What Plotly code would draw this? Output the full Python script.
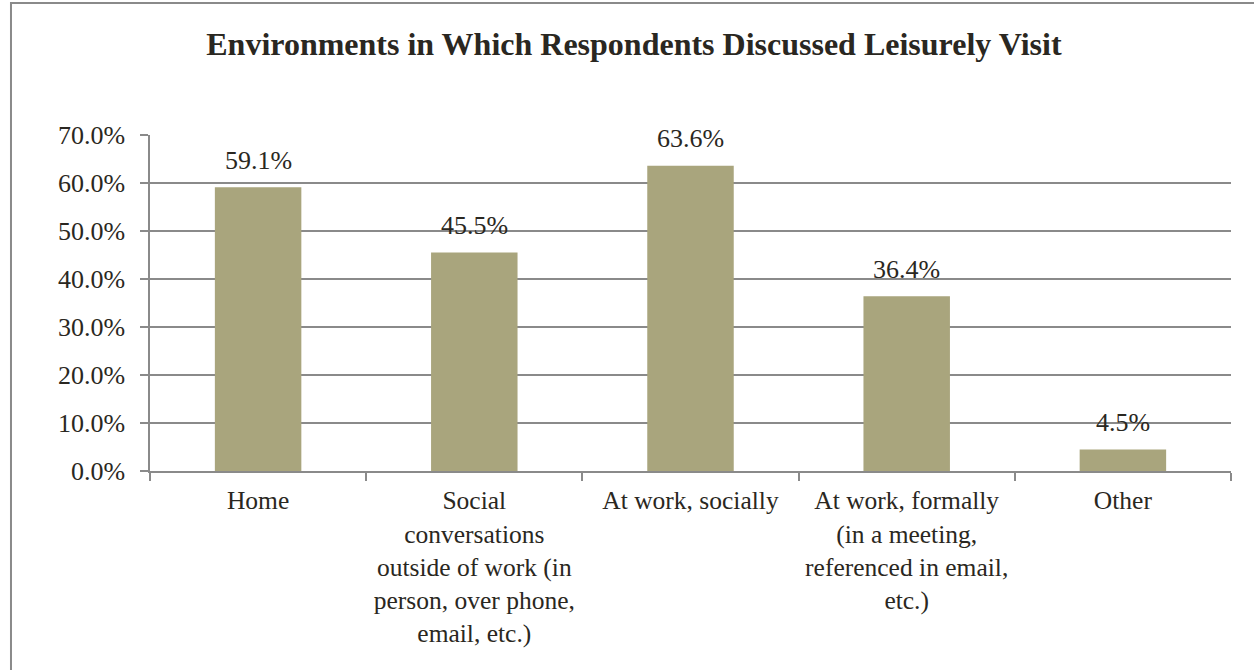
import plotly.graph_objects as go

# Survey results: where respondents talked about their leisurely visit
categories = [
    "Home",
    "Social<br>conversations<br>outside of work (in<br>person, over phone,<br>email, etc.)",
    "At work, socially",
    "At work, formally<br>(in a meeting,<br>referenced in email,<br>etc.)",
    "Other",
]
shares = [0.591, 0.455, 0.636, 0.364, 0.045]
y_ticks = [0.0, 0.1, 0.2, 0.3, 0.4, 0.5, 0.6, 0.7]

BAR = "#A9A57D"
INK = "#2A2721"
GRID = "#8A8A8A"
FONT = "Liberation Serif, Times New Roman, serif"

fig = go.Figure()
fig.add_trace(go.Bar(
    x=categories,
    y=shares,
    marker=dict(color=BAR, line=dict(width=0)),
    width=0.4,
    hoverinfo="skip",
))

# value labels above each bar
for cat, val in zip(categories, shares):
    fig.add_annotation(
        x=cat, y=val, xref="x", yref="y",
        text=f"{val * 100:.1f}%",
        showarrow=False, yanchor="middle", yshift=27,
        font=dict(family=FONT, size=26, color=INK),
    )

# outer chart frame
fig.add_shape(
    type="rect", xref="paper", yref="paper",
    x0=-0.1286, x1=1.06, y0=-0.7, y1=1.393,
    line=dict(color=GRID, width=2), fillcolor="rgba(0,0,0,0)",
    layer="below",
)

fig.update_layout(
    width=1254, height=670,
    margin=dict(l=150, r=23, t=135, b=199),
    paper_bgcolor="white",
    plot_bgcolor="white",
    showlegend=False,
    title=dict(
        text="<b>Environments in Which Respondents Discussed Leisurely Visit</b>",
        x=0.5055, xanchor="center", y=0.935, yanchor="middle",
        font=dict(family=FONT, size=32, color=INK),
    ),
    font=dict(family=FONT, size=26, color=INK),
)

fig.update_xaxes(
    type="category",
    showline=True, linecolor=GRID, linewidth=1.5,
    ticks="outside", tickson="boundaries", ticklen=8, tickcolor=GRID, tickwidth=1.5,
    showgrid=False,
    ticklabelstandoff=6,
    tickfont=dict(family=FONT, size=25.5, color=INK),
)
fig.update_yaxes(
    range=[0, 0.7],
    tickvals=y_ticks,
    tickformat=".1%",
    showline=True, linecolor=GRID, linewidth=1.5,
    ticks="outside", ticklen=8, tickcolor=GRID, tickwidth=1.5,
    showgrid=True, gridcolor=GRID, gridwidth=1.5,
    zeroline=False,
    ticklabelstandoff=10,
    tickfont=dict(family=FONT, size=26, color=INK),
)

fig.write_html("out.html")
